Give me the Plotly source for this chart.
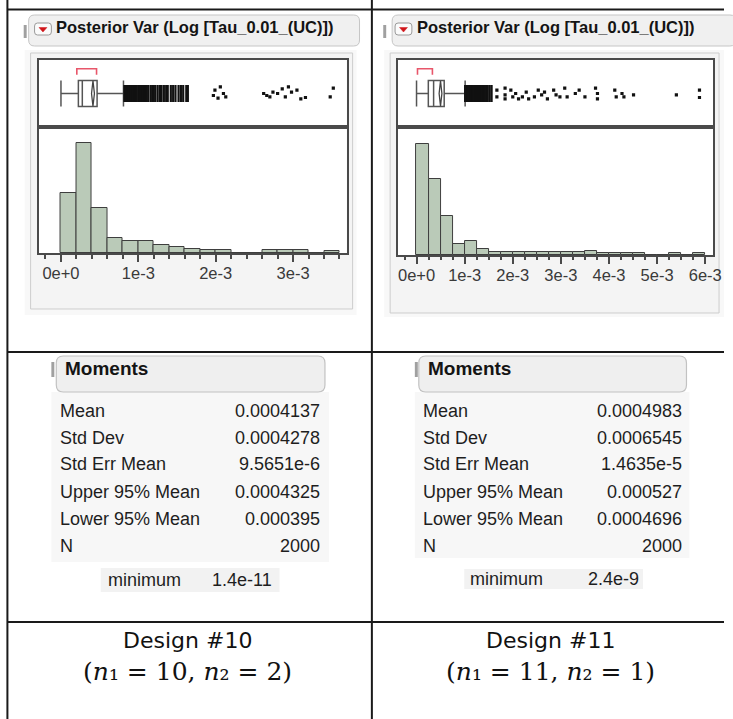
import plotly.graph_objects as go

W, H = 733, 719

# ---------------- data ----------------
panel_title = "Posterior Var (Log [Tau_0.01_(UC)])"
design_names = ["Design #10", "Design #11"]
design_params = ["(<i>n</i>\u2081 = 10, <i>n</i>\u2082 = 2)",
                 "(<i>n</i>\u2081 = 11, <i>n</i>\u2082 = 1)"]

# histogram counts (bins start at 0)
hist10_bin = 0.0002
hist10_counts = [412, 750, 311, 102, 86, 86, 57, 45, 29, 21, 21, 0, 0, 24, 24, 24, 0, 18]
hist11_bin = 0.00025
hist11_counts = [736, 504, 261, 73, 95, 38, 22, 22, 22, 22, 22, 22, 22, 22, 27,
                 15, 15, 15, 15, 0, 0, 15, 0, 15]

# box plot summaries: [lower whisker, Q1, median, Q3, upper whisker]
box10 = [0.0, 0.000225, 0.000276, 0.000467, 0.000808]
box11 = [0.0, 0.000245, 0.000355, 0.000575, 0.00101]
shortest_half10 = [0.000205, 0.00046]
shortest_half11 = [0.00002, 0.00033]

# outliers (dense run just beyond the whisker, then sparse points)
out10_dense = [0.82e-3, 0.835e-3, 0.85e-3, 0.865e-3, 0.88e-3, 0.90e-3, 0.915e-3, 0.93e-3,
               0.95e-3, 0.965e-3, 0.98e-3, 1.0e-3, 1.02e-3, 1.04e-3, 1.06e-3, 1.075e-3,
               1.09e-3, 1.11e-3, 1.13e-3, 1.16e-3, 1.18e-3, 1.20e-3, 1.22e-3, 1.25e-3,
               1.28e-3, 1.30e-3, 1.33e-3, 1.36e-3, 1.38e-3, 1.42e-3, 1.45e-3, 1.48e-3,
               1.52e-3, 1.55e-3, 1.58e-3, 1.62e-3, 1.64e-3]
out10_x = [1.97e-3, 1.99e-3, 2.03e-3, 2.06e-3, 2.10e-3, 2.13e-3,
           2.62e-3, 2.66e-3, 2.70e-3, 2.74e-3, 2.80e-3, 2.86e-3, 2.90e-3, 2.94e-3,
           2.98e-3, 3.05e-3, 3.10e-3, 3.16e-3, 3.48e-3, 3.52e-3]
out10_y = [0.47, 0.55, 0.43, 0.60, 0.50, 0.45,
           0.50, 0.47, 0.45, 0.52, 0.50, 0.57, 0.45, 0.60,
           0.52, 0.55, 0.42, 0.44, 0.45, 0.58]

out11_dense = [1.01e-3, 1.025e-3, 1.04e-3, 1.055e-3, 1.07e-3, 1.085e-3, 1.10e-3, 1.115e-3,
               1.13e-3, 1.145e-3, 1.16e-3, 1.175e-3, 1.19e-3, 1.21e-3, 1.23e-3, 1.25e-3,
               1.27e-3, 1.29e-3, 1.31e-3, 1.33e-3, 1.35e-3, 1.37e-3, 1.39e-3, 1.42e-3,
               1.45e-3, 1.48e-3, 1.52e-3, 1.56e-3]
out11_x = [1.67e-3, 1.67e-3, 1.84e-3, 1.84e-3, 1.84e-3, 1.96e-3, 2.0e-3, 2.06e-3, 2.12e-3,
           2.2e-3, 2.28e-3, 2.33e-3, 2.45e-3, 2.53e-3, 2.6e-3, 2.66e-3, 2.72e-3, 2.85e-3,
           2.9e-3, 2.98e-3, 3.08e-3, 3.13e-3, 3.3e-3, 3.38e-3, 3.5e-3, 3.72e-3, 3.76e-3,
           3.76e-3, 4.12e-3, 4.15e-3, 4.27e-3, 4.31e-3, 4.51e-3, 5.4e-3, 5.88e-3, 5.88e-3]
out11_y = [0.55, 0.45, 0.58, 0.48, 0.42, 0.55, 0.45, 0.50, 0.42,
           0.45, 0.52, 0.42, 0.45, 0.55, 0.48, 0.52, 0.42, 0.55,
           0.48, 0.45, 0.58, 0.45, 0.50, 0.55, 0.45, 0.58, 0.50,
           0.42, 0.55, 0.45, 0.50, 0.45, 0.48, 0.48, 0.55, 0.44]

ticks10 = [0, 1e-3, 2e-3, 3e-3]
ticktext10 = ["0e+0", "1e-3", "2e-3", "3e-3"]
ticks11 = [0, 1e-3, 2e-3, 3e-3, 4e-3, 5e-3, 6e-3]
ticktext11 = ["0e+0", "1e-3", "2e-3", "3e-3", "4e-3", "5e-3", "6e-3"]

moment_names = ["Mean", "Std Dev", "Std Err Mean", "Upper 95% Mean", "Lower 95% Mean", "N"]
moments10 = ["0.0004137", "0.0004278", "9.5651e-6", "0.0004325", "0.000395", "2000"]
moments11 = ["0.0004983", "0.0006545", "1.4635e-5", "0.000527", "0.0004696", "2000"]
minimum10 = "1.4e-11"
minimum11 = "2.4e-9"

# ---------------- helpers ----------------
def PX(x):
    return x / W


def PY(y):
    return 1 - y / H


shapes = []
annotations = []


def rect(x0, y0, x1, y1, fill, line="rgba(0,0,0,0)", lw=0, layer="below"):
    shapes.append(dict(type="rect", xref="paper", yref="paper",
                       x0=PX(x0), x1=PX(x1), y0=PY(y1), y1=PY(y0),
                       fillcolor=fill, line=dict(color=line, width=lw), layer=layer))


def rrect(x0, y0, x1, y1, r, fill, line, lw=1, layer="below"):
    def p(x, y):
        return f"{PX(x):.5f},{PY(y):.5f}"
    path = (f"M {p(x0 + r, y0)} L {p(x1 - r, y0)} Q {p(x1, y0)} {p(x1, y0 + r)} "
            f"L {p(x1, y1 - r)} Q {p(x1, y1)} {p(x1 - r, y1)} L {p(x0 + r, y1)} "
            f"Q {p(x0, y1)} {p(x0, y1 - r)} L {p(x0, y0 + r)} Q {p(x0, y0)} {p(x0 + r, y0)} Z")
    shapes.append(dict(type="path", xref="paper", yref="paper", path=path,
                       fillcolor=fill, line=dict(color=line, width=lw), layer=layer))


def tri(pts, fill):
    path = "M " + " L ".join(f"{PX(x):.5f},{PY(y):.5f}" for x, y in pts) + " Z"
    shapes.append(dict(type="path", xref="paper", yref="paper", path=path,
                       fillcolor=fill, line=dict(color=fill, width=0.5), layer="above"))


def hline(x0, x1, y, color="#1a1a1a", w=2):
    shapes.append(dict(type="line", xref="paper", yref="paper", x0=PX(x0), x1=PX(x1),
                       y0=PY(y), y1=PY(y), line=dict(color=color, width=w), layer="above"))


def vline(x, y0, y1, color="#1a1a1a", w=2):
    shapes.append(dict(type="line", xref="paper", yref="paper", x0=PX(x), x1=PX(x),
                       y0=PY(y0), y1=PY(y1), line=dict(color=color, width=w), layer="above"))


def text(x, y, s, size, anchor="left", family="Liberation Sans, Arial, sans-serif",
         color="#1e1e1e", yanchor="middle"):
    annotations.append(dict(x=PX(x), y=PY(y), xref="paper", yref="paper", text=s,
                            showarrow=False, xanchor=anchor, yanchor=yanchor,
                            font=dict(size=size, family=family, color=color)))


FRAME = "#4a4a4a"
SANS = "Liberation Sans, Arial, sans-serif"

fig = go.Figure()
layout_axes = {}

panels = [
    dict(box=box10, sh=shortest_half10, mom=moments10, counts=hist10_counts, binw=hist10_bin,
         dense=out10_dense, ox=out10_x, oy=out10_y, tv=ticks10, tt=ticktext10,
         fx0=39, fx1=351, fy0=60, fdiv=127, fy1=253.3, xr=[-0.29e-3, 3.693e-3], ymax=861,
         title=(29, 364, 35, 55, 24), outer=(25, 361, 315), inner=(31, 357, 309)),
    dict(box=box11, sh=shortest_half11, mom=moments11, counts=hist11_counts, binw=hist11_bin,
         dense=out11_dense, ox=out11_x, oy=out11_y, tv=ticks11, tt=ticktext11,
         fx0=403, fx1=722, fy0=60, fdiv=127, fy1=255, xr=[-0.384e-3, 6.164e-3], ymax=849,
         title=(397, 745, 400, 420, 388), outer=(389, 733, 317), inner=(395, 728, 313)),
]

for i, P in enumerate(panels):
    bx, by = ("x", "y") if i == 0 else ("x3", "y3")
    hx, hy = ("x2", "y2") if i == 0 else ("x4", "y4")

    # --- JMP panel chrome ---
    tb0, tb1, btn, tx, hnd = P["title"]
    rrect(tb0, 15, tb1, 46, 6, "#f0f0f0", "#c6c6c6", 1)
    rect(hnd, 25, hnd + 3, 38, "#a0a0a0")
    rrect(btn, 23, btn + 17, 35, 3, "#fbfbfb", "#9a9a9a", 1)
    tri([(btn + 4.5, 27.5), (btn + 12.5, 27.5), (btn + 8.5, 32)], "#d0161b")
    text(tx, 27, "<b>" + panel_title + "</b>", 16.5, color="#141414")
    ox0, ox1, oyb = P["outer"]
    rect(ox0, 50, ox1, oyb, "#f8f8f8")
    ix0, ix1, iyb = P["inner"]
    rect(ix0, 53, ix1, iyb, "#f4f4f4", "#cdcdcd", 1)
    rect(P["fx0"], P["fy0"], P["fx1"], P["fy1"], "#ffffff")

    # --- axes ---
    dom_x = [PX(P["fx0"]), PX(P["fx1"])]
    common_y = dict(showgrid=False, zeroline=False, showticklabels=False, ticks="",
                    showline=True, mirror=True, linecolor=FRAME, linewidth=1.5, fixedrange=True)
    layout_axes["xaxis" + ("" if i == 0 else "3")] = dict(
        domain=dom_x, anchor=by, range=P["xr"], showgrid=False, zeroline=False,
        showticklabels=False, ticks="", showline=True, mirror=True, linecolor=FRAME,
        linewidth=1.5, fixedrange=True)
    layout_axes["yaxis" + ("" if i == 0 else "3")] = dict(
        domain=[PY(P["fdiv"]), PY(P["fy0"])], anchor=bx, range=[0, 1], **common_y)
    layout_axes["xaxis" + ("2" if i == 0 else "4")] = dict(
        domain=dom_x, anchor=hy, range=P["xr"], showgrid=False, zeroline=False,
        tickmode="array", tickvals=P["tv"], ticktext=P["tt"], ticks="outside", ticklen=7,
        tickwidth=1.5, tickcolor=FRAME, ticklabelstandoff=-3,
        minor=dict(dtick=P["binw"], tick0=0, ticks="outside", ticklen=3.5, tickwidth=1.5,
                   tickcolor=FRAME, showgrid=False),
        tickfont=dict(family=SANS, size=16.5, color="#3a3a3a"),
        showline=True, mirror=True, linecolor=FRAME, linewidth=1.5, fixedrange=True)
    layout_axes["yaxis" + ("2" if i == 0 else "4")] = dict(
        domain=[PY(P["fy1"]), PY(P["fdiv"])], anchor=hx, range=[0, P["ymax"]], **common_y)

    # --- histogram ---
    n = len(P["counts"])
    fig.add_trace(go.Bar(
        x=[P["binw"] * (k + 0.5) for k in range(n)], y=P["counts"], width=[P["binw"]] * n,
        marker=dict(color="#bacab8", line=dict(color="#3e3e3e", width=1)),
        xaxis=hx, yaxis=hy, hoverinfo="skip"))

    # --- outlier box plot ---
    b = P["box"]
    fig.add_trace(go.Box(
        y=[0.5], lowerfence=[b[0]], q1=[b[1]], median=[b[2]], q3=[b[3]], upperfence=[b[4]],
        orientation="h", width=0.39, whiskerwidth=1, fillcolor="rgba(0,0,0,0)",
        line=dict(color="#555555", width=1.5), boxpoints=False,
        xaxis=bx, yaxis=by, hoverinfo="skip"))
    mean_v, up_v, lo_v = float(P["mom"][0]), float(P["mom"][3]), float(P["mom"][4])
    fig.add_trace(go.Scatter(
        x=[lo_v, mean_v, up_v, mean_v, lo_v], y=[0.5, 0.69, 0.5, 0.31, 0.5], mode="lines",
        line=dict(color="#444444", width=1.3), xaxis=bx, yaxis=by, hoverinfo="skip"))
    fig.add_trace(go.Scatter(
        x=[P["sh"][0], P["sh"][0], P["sh"][1], P["sh"][1]], y=[0.78, 0.87, 0.87, 0.78],
        mode="lines", line=dict(color="#e8566a", width=1.6), xaxis=bx, yaxis=by,
        hoverinfo="skip"))
    fig.add_trace(go.Scatter(
        x=P["dense"], y=[0.5] * len(P["dense"]), mode="markers",
        marker=dict(symbol="line-ns", size=12, line=dict(color="#111111", width=2.2)),
        xaxis=bx, yaxis=by, hoverinfo="skip"))
    fig.add_trace(go.Scatter(
        x=P["ox"], y=P["oy"], mode="markers",
        marker=dict(symbol="square", size=3.2, color="#111111", line=dict(width=0)),
        xaxis=bx, yaxis=by, hoverinfo="skip"))

# ---------------- Moments tables ----------------
mom_geo = [
    dict(hdr=(57, 329), handle=52, lab=59, val=326, bg=(52, 333, 562),
         minbg=(102, 283, 568, 592), minlab=107, minval=213, miny=580, vals=moments10, mn=minimum10),
    dict(hdr=(424, 695), handle=420, lab=426, val=692, bg=(420, 698, 558),
         minbg=(470, 651, 569, 589), minlab=474, minval=593, miny=579, vals=moments11, mn=minimum11),
]
row_y = [410.5, 437.5, 464.5, 491.5, 518.5, 545.5]
for G in mom_geo:
    bx0, bx1, byb = G["bg"]
    rect(bx0, 392, bx1, byb, "#f7f7f7")
    rrect(G["hdr"][0], 356, G["hdr"][1], 392, 7, "#efefef", "#c2c2c2", 1.2)
    rect(G["handle"], 362, G["handle"] + 3, 377, "#a0a0a0")
    text(G["hdr"][0] + 7, 368, "<b>Moments</b>", 19, color="#141414")
    for name, v, yy in zip(moment_names, G["vals"], row_y):
        text(G["lab"], yy, name, 18)
        text(G["val"], yy, v, 18, anchor="right")
    m0, m1, my0, my1 = G["minbg"]
    rect(m0, my0, m1, my1, "#f2f2f2")
    text(G["minlab"], G["miny"], "minimum", 18)
    text(G["minval"], G["miny"], G["mn"], 18)

# ---------------- design captions ----------------
for cx, name, par in zip([190, 557], design_names, design_params):
    text(cx, 640, name, 22, anchor="center", family="DejaVu Sans, sans-serif", color="#111111")
    text(cx, 671, par, 25, anchor="center", family="DejaVu Serif, serif", color="#111111")

# ---------------- table grid ----------------
vline(7.5, 0, 719)
vline(376.5, 0, 719)
hline(7.5, 733, 9.5)
hline(7.5, 733, 352)
hline(7.5, 733, 622)

fig.update_layout(
    width=W, height=H, margin=dict(l=0, r=0, t=0, b=0),
    paper_bgcolor="#ffffff", plot_bgcolor="#ffffff", showlegend=False,
    shapes=shapes, annotations=annotations, bargap=0, **layout_axes)

fig.write_html("out.html", config={"displayModeBar": False},
               post_script="document.body.style.margin='0px';document.body.style.overflow='hidden';")
